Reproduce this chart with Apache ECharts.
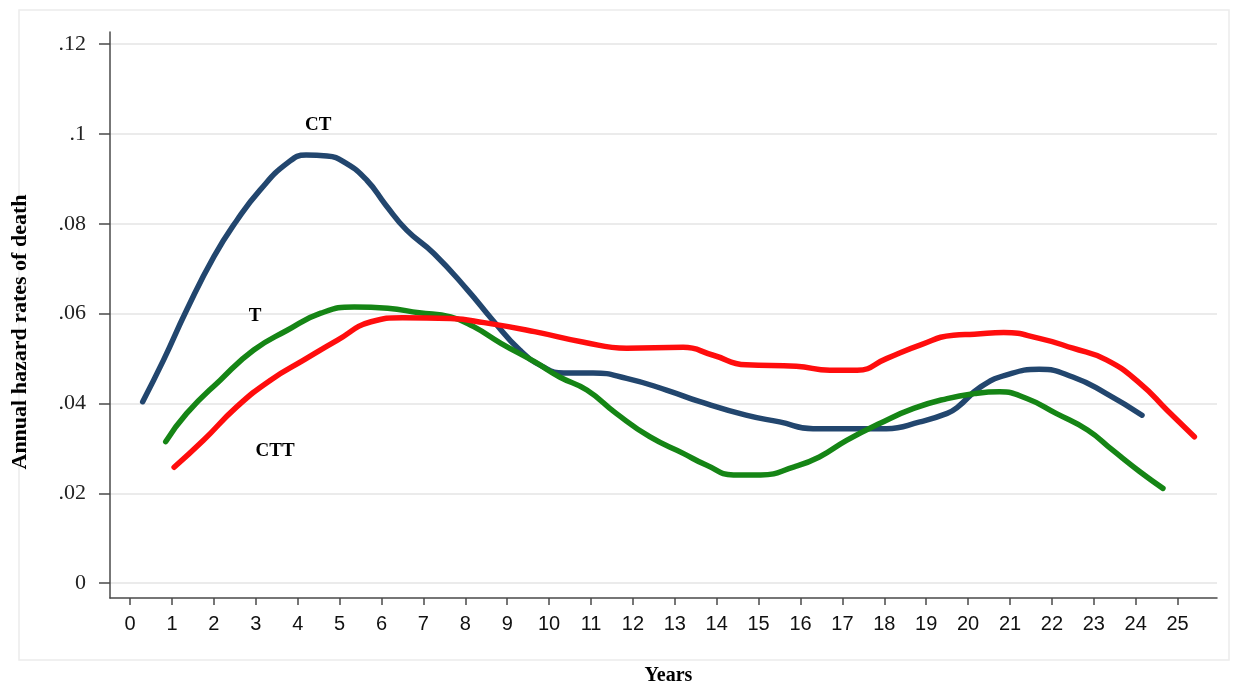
<!DOCTYPE html>
<html>
<head>
<meta charset="utf-8">
<script src="https://cdn.jsdelivr.net/npm/echarts@6/dist/echarts.min.js"></script>
<style>html,body{margin:0;padding:0;background:#fff}#c{width:1244px;height:690px}</style>
</head>
<body>
<div id="c"></div>
<script>
// ---- data ----
const xTicks = [0,1,2,3,4,5,6,7,8,9,10,11,12,13,14,15,16,17,18,19,20,21,22,23,24,25];
const yTicks = [0, 0.02, 0.04, 0.06, 0.08, 0.10, 0.12];
const yTickLabels = ['0', '.02', '.04', '.06', '.08', '.1', '.12'];

const ctX = [0.3,0.8,1.35,2.0,2.55,3.1,3.75,4.2,4.7,5.15,5.65,6.1,6.6,7.25,8.05,8.65,9.3,9.85,10.35,11.05,11.85,12.8,13.6,14.7,15.5,16.3,17.25,18.05,18.85,19.5,19.75,20.3,20.9,21.7,22.5,23.3,24.15];
const ctY = [0.0404,0.0497,0.0608,0.0727,0.0808,0.0875,0.0935,0.0953,0.0951,0.0935,0.0897,0.0842,0.0786,0.0734,0.0653,0.0586,0.0519,0.0482,0.0468,0.0468,0.0456,0.0430,0.0404,0.0374,0.0359,0.0344,0.0344,0.0344,0.0359,0.0378,0.0392,0.0437,0.0463,0.0476,0.0459,0.0422,0.0374];

const tX = [0.85,1.35,2.15,2.95,3.75,4.55,5.35,6.15,6.9,7.65,8.2,8.85,9.65,10.25,10.9,11.6,12.4,13.2,13.75,14.4,15.05,15.85,16.45,17.1,17.9,18.7,19.5,20.15,20.75,21.4,22.1,22.85,23.45,24.1,24.65];
const tY = [0.0315,0.0378,0.0452,0.0519,0.0563,0.0601,0.0615,0.0612,0.0602,0.0593,0.0571,0.0534,0.0493,0.0459,0.0430,0.0378,0.0326,0.0289,0.0263,0.0241,0.0241,0.0259,0.0281,0.0318,0.0356,0.0389,0.0411,0.0422,0.0426,0.0411,0.0378,0.0341,0.0296,0.0248,0.0211];

const cttX = [1.05,1.75,2.55,3.35,4.15,4.95,5.75,6.5,7.65,8.45,9.65,10.8,11.85,13.2,13.9,14.7,15.9,16.7,17.35,18.05,18.85,19.65,20.15,20.85,21.7,22.5,23.3,24.1,24.75,25.4];
const cttY = [0.0258,0.0318,0.0393,0.0452,0.0497,0.0541,0.0582,0.0591,0.0589,0.0580,0.0560,0.0537,0.0523,0.0525,0.0508,0.0486,0.0483,0.0474,0.0474,0.0500,0.0530,0.0552,0.0554,0.0558,0.0545,0.0523,0.0497,0.0445,0.0385,0.0326];

const curveNames = ['CT', 'T', 'CTT'];
const labelX = [4.49, 2.98, 3.46];
const labelY = [0.102, 0.0595, 0.0294];

// ---- chart ----
const zip = (xs, ys) => xs.map((x, i) => [x, ys[i]]);
const colors = ['#22466e', '#158515', '#ff0d0d'];
const chart = echarts.init(document.getElementById('c'), null, {renderer: 'canvas'});

const lineSeries = [[ctX, ctY], [tX, tY], [cttX, cttY]].map((d, i) => ({
  type: 'line',
  name: curveNames[i],
  data: zip(d[0], d[1]),
  smooth: 0.5,
  showSymbol: false,
  symbol: 'none',
  lineStyle: {color: colors[i], width: 5.5, cap: 'round', join: 'round'},
  z: 3
}));

chart.setOption({
  animation: false,
  backgroundColor: '#fff',
  graphic: [{
    type: 'rect',
    shape: {x: 19, y: 10, width: 1210, height: 650},
    style: {fill: 'none', stroke: '#ececec', lineWidth: 1.5},
    z: -10, silent: true
  }],
  grid: {left: 110, right: 27, top: 32, bottom: 92, containLabel: false, outerBoundsMode: 'none'},
  xAxis: {
    type: 'value',
    min: -0.48, max: 25.94,
    name: 'Years',
    nameLocation: 'middle',
    nameGap: 68,
    nameTextStyle: {fontFamily: 'Liberation Serif', fontWeight: 'bold', fontSize: 20, color: '#000', padding: [0, 0, 0, 10]},
    axisLine: {show: true, onZero: false, lineStyle: {color: '#4a4a4a', width: 1.5}},
    axisTick: {show: true, customValues: xTicks, length: 7, lineStyle: {color: '#4a4a4a', width: 1.5}},
    axisLabel: {customValues: xTicks, fontFamily: 'Liberation Sans', fontSize: 20, color: '#111', margin: 16},
    splitLine: {show: false}
  },
  yAxis: {
    type: 'value',
    min: -0.0033, max: 0.1227,
    name: 'Annual hazard rates of death',
    nameLocation: 'middle',
    nameGap: 79,
    nameRotate: 90,
    nameTextStyle: {fontFamily: 'Liberation Serif', fontWeight: 'bold', fontSize: 22, color: '#000', padding: [0, 0, 0, -34]},
    axisLine: {show: true, onZero: false, lineStyle: {color: '#4a4a4a', width: 1.5}},
    axisTick: {show: true, customValues: yTicks, length: 11, lineStyle: {color: '#4a4a4a', width: 1.5}},
    axisLabel: {
      customValues: yTicks,
      fontFamily: 'Liberation Serif', fontSize: 22, color: '#222', margin: 24,
      formatter: v => {
        const i = yTicks.findIndex(t => Math.abs(t - v) < 1e-9);
        return i >= 0 ? yTickLabels[i] : '';
      }
    },
    splitLine: {show: true, lineStyle: {color: '#ebebeb', width: 2}}
  },
  series: lineSeries.concat([{
    type: 'scatter',
    symbolSize: 0,
    data: labelX.map((x, i) => [x, labelY[i], curveNames[i]]),
    itemStyle: {opacity: 1},
    label: {
      show: true, position: 'inside',
      formatter: p => p.data[2],
      fontFamily: 'Liberation Serif', fontWeight: 'bold', fontSize: 19, color: '#000'
    },
    z: 5
  }])
});
</script>
</body>
</html>
